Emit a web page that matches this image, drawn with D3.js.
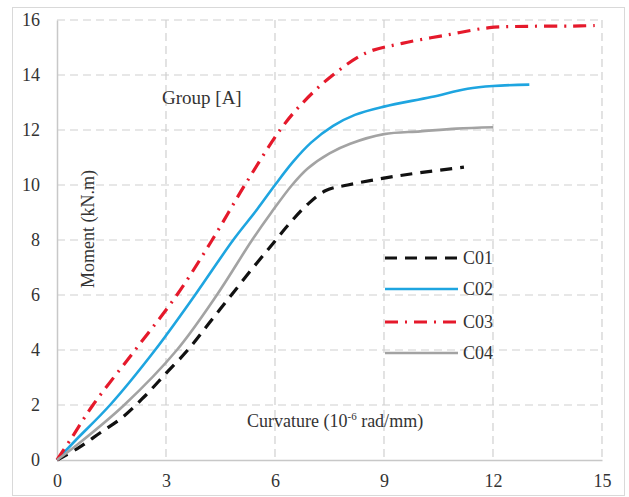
<!DOCTYPE html>
<html><head><meta charset="utf-8">
<script src="https://cdn.jsdelivr.net/npm/d3@7"></script>
<style>
body{margin:0;background:#fff;}
svg text{font-family:"Liberation Serif","Times New Roman","DejaVu Serif",serif !important;fill:#333;}
</style></head>
<body><svg id="c" width="629" height="497"></svg>
<script>
const xTicks = [0,3,6,9,12,15];
const yTicks = [0,2,4,6,8,10,12,14,16];
const seriesNames = ["C01","C02","C03","C04"];
const c01 = [[0,0],[0.6,0.45],[1.2,1.0],[1.8,1.55],[2.4,2.3],[3,3.15],[3.6,4],[4.2,5],[4.8,6],[5.4,7],[5.9,7.8],[6.4,8.6],[6.9,9.3],[7.4,9.8],[8,10.0],[9,10.25],[10,10.45],[11.2,10.65]];
const c02 = [[0,0],[0.5,0.7],[1.46,2],[2.7,4],[3.8,6],[4.85,8],[5.5,9.1],[6.0,10],[6.5,10.85],[7.0,11.55],[7.6,12.15],[8.2,12.55],[9,12.85],[10.3,13.2],[11.3,13.5],[12,13.6],[13,13.65]];
const c03 = [[0,0],[0.4,0.8],[0.99,2],[2.15,4],[3.3,6],[4.27,8],[5.17,10],[6.14,12],[6.7,12.9],[7.5,13.9],[8.5,14.8],[9.5,15.15],[10.7,15.45],[11.9,15.72],[13,15.77],[14.2,15.78],[14.8,15.8]];
const c04 = [[0,0],[0.6,0.6],[1.85,2],[3.3,4],[4.4,6],[5.37,8],[5.9,9],[6.47,10],[6.9,10.6],[7.5,11.15],[8.07,11.5],[9,11.85],[10,11.95],[11,12.05],[12,12.1]];
const seriesData = [c01,c02,c03,c04];
const colors = ["#111111","#1ea5e0","#e5192b","#a3a3a3"];
const dashes = ["12,8",null,"13,7,2,7",null];
const widths = [3.2,2.6,3.2,2.6];

const svg = d3.select("#c");
svg.append("rect").attr("x",12.5).attr("y",7.5).attr("width",612).attr("height",488)
  .attr("fill","#fff").attr("stroke","#d9d9d9").attr("stroke-width",1);

const L=57,R=602,T=20,B=460;
const x = d3.scaleLinear().domain([0,15]).range([L,R]);
const y = d3.scaleLinear().domain([0,16]).range([B,T]);

// grid
svg.append("g").selectAll("line").data(yTicks.filter(d=>d>0)).join("line")
  .attr("x1",L).attr("x2",R).attr("y1",d=>y(d)).attr("y2",d=>y(d))
  .attr("stroke","#d0d0d0").attr("stroke-width",1.2).attr("stroke-dasharray","8,5");
svg.append("g").selectAll("line").data(xTicks.filter(d=>d>0)).join("line")
  .attr("y1",T).attr("y2",B).attr("x1",d=>x(d)).attr("x2",d=>x(d))
  .attr("stroke","#d0d0d0").attr("stroke-width",1.2).attr("stroke-dasharray","8,5");

// axes
const xa = svg.append("g").attr("transform",`translate(0,${B})`)
  .call(d3.axisBottom(x).tickValues(xTicks).tickSize(0).tickPadding(14));
const ya = svg.append("g").attr("transform",`translate(${L},0)`)
  .call(d3.axisLeft(y).tickValues(yTicks).tickSize(0).tickPadding(17));
[xa,ya].forEach(a=>{a.attr("font-family",null).attr("font-size",null);
  a.select(".domain").attr("stroke","#c8c8c8").attr("stroke-width",1.5);
  a.selectAll("text").attr("font-size",18).attr("fill","#444");});

// lines
const line = d3.line().x(d=>x(d[0])).y(d=>y(d[1])).curve(d3.curveCatmullRom.alpha(0.5));
seriesData.forEach((s,i)=>{
  svg.append("path").datum(s).attr("d",line).attr("fill","none")
    .attr("stroke",colors[i]).attr("stroke-width",widths[i])
    .attr("stroke-dasharray",dashes[i]).attr("stroke-linejoin","round");
});

// labels
svg.append("text").attr("x",162).attr("y",104).attr("font-size",19).text("Group [A]");
svg.append("text").attr("transform","translate(94,229) rotate(-90)").attr("text-anchor","middle")
  .attr("font-size",18).text("Moment (kN.m)");
const ct = svg.append("text").attr("x",247).attr("y",427).attr("font-size",18);
ct.append("tspan").text("Curvature (10");
ct.append("tspan").attr("font-size",11).attr("dy",-7).text("-6");
ct.append("tspan").attr("dy",7).text(" rad/mm)");

// legend
const ly = [258,289,322,353];
seriesNames.forEach((n,i)=>{
  svg.append("line").attr("x1",385).attr("x2",458).attr("y1",ly[i]).attr("y2",ly[i])
    .attr("stroke",colors[i]).attr("stroke-width",widths[i]).attr("stroke-dasharray",dashes[i]);
  svg.append("text").attr("x",463).attr("y",ly[i]+6).attr("font-size",18).text(n);
});
</script></body></html>
